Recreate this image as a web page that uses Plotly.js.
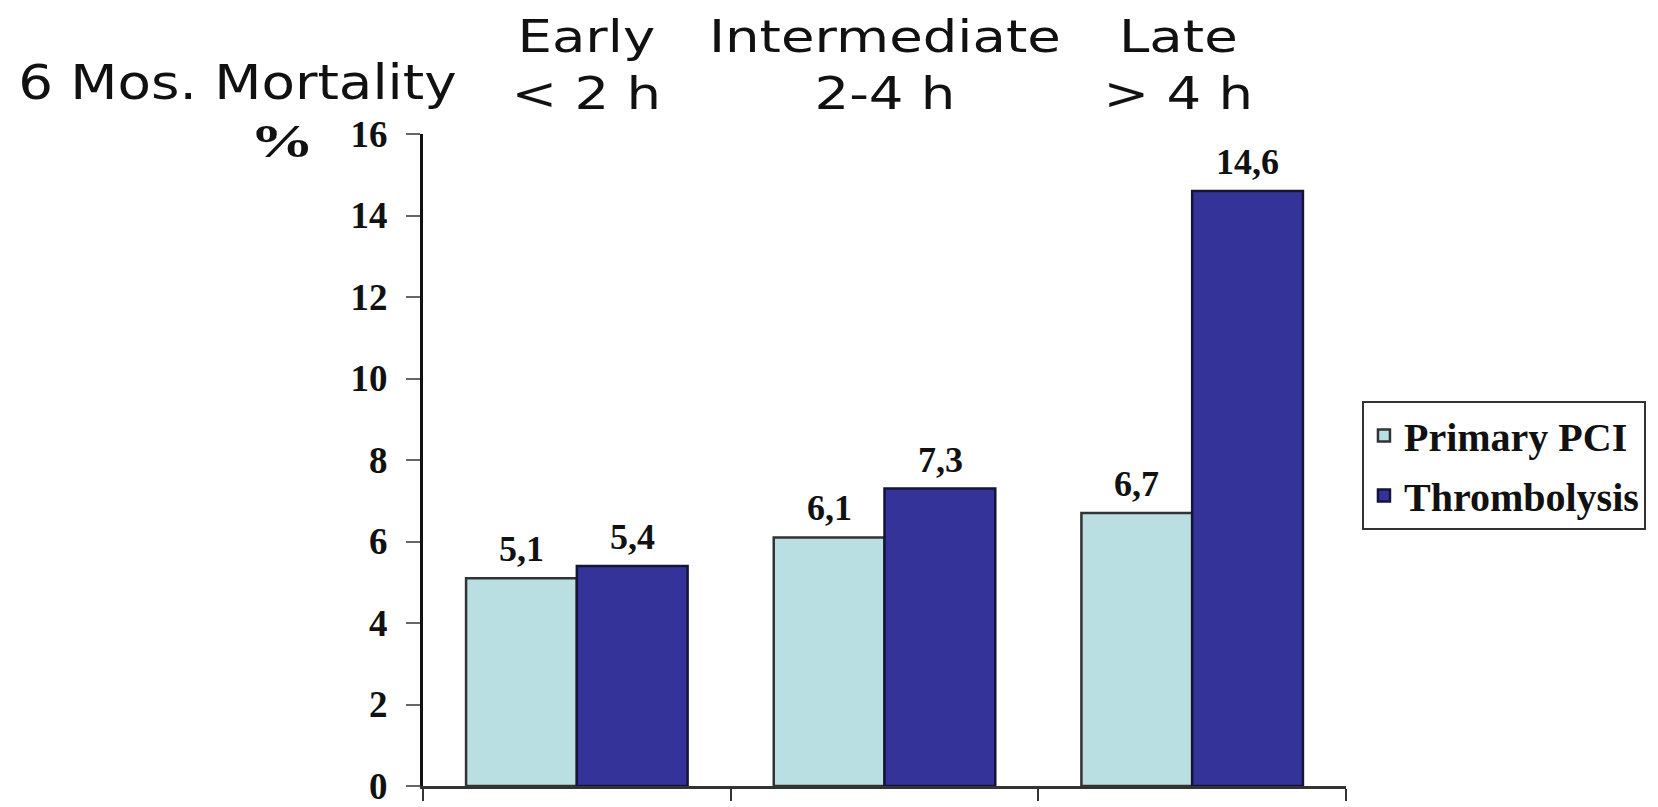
<!DOCTYPE html>
<html>
<head>
<meta charset="utf-8">
<script src="https://cdn.plot.ly/plotly-3.0.1.min.js"></script>
<style>
  html, body { margin: 0; padding: 0; background: #ffffff; }
  #chart { width: 1658px; height: 807px; }
  /* headings and the unit sign are set in a wide face */
  #chart g.annotation .annotation-text {
    transform-box: fill-box;
    transform-origin: center;
  }
  #chart g.annotation[data-index="0"] .annotation-text { transform: scaleX(1.14); }
  #chart g.annotation[data-index="1"] .annotation-text { transform: scaleX(1.4); }
  #chart g.annotation[data-index="2"] .annotation-text,
  #chart g.annotation[data-index="3"] .annotation-text,
  #chart g.annotation[data-index="4"] .annotation-text { transform: scaleX(1.24); }
</style>
</head>
<body>
<div id="chart"></div>
<script>
// Six-month mortality by time to treatment
const categories = ['Early', 'Intermediate', 'Late'];
const timeWindows = ['&lt; 2 h', '2-4 h', '&gt; 4 h'];
const seriesNames = ['Primary PCI', 'Thrombolysis'];
const primaryPCI = [5.1, 6.1, 6.7];
const thrombolysis = [5.4, 7.3, 14.6];
const yTicks = [0, 2, 4, 6, 8, 10, 12, 14, 16];

const timesBold = { family: 'Liberation Serif', weight: 'bold', color: '#111111' };
const sans = 'DejaVu Sans, Verdana, sans-serif';
const headerShift = [10, 0, -14];

const W = 1658, H = 807;
const margin = { l: 423, r: 310, t: 134, b: 21 };
const bargap = 0.28;
const plotW = W - margin.l - margin.r;
const plotH = H - margin.t - margin.b;
// half the width of one bar in a two-bar group, in pixels
const halfBar = plotW / categories.length * (1 - bargap) / 4;
// paper y for a given distance in pixels from the top of the page
const paperY = px => (H - margin.b - px) / plotH;

function barTrace(name, values, fill, edge) {
  return {
    type: 'bar',
    name: name,
    legendgroup: name,
    x: categories,
    y: values,
    marker: { color: fill, line: { color: edge, width: 2.5 } },
    hoverinfo: 'skip'
  };
}

const traces = [
  barTrace(seriesNames[0], primaryPCI, '#b9dfe3', '#333333'),
  barTrace(seriesNames[1], thrombolysis, '#333399', '#14143a')
];

const fmt = v => v.toFixed(1).replace('.', ',');

const headerAnnotations = categories.map((c, i) => ({
  xref: 'x', yref: 'paper',
  x: c, y: paperY(65), xshift: headerShift[i],
  xanchor: 'center', yanchor: 'middle',
  text: c + '<br>' + timeWindows[i],
  showarrow: false,
  font: { family: sans, size: 44, color: '#111111' }
}));

// value labels sit above each bar of the pair
const valueAnnotations = [];
[primaryPCI, thrombolysis].forEach((values, s) => {
  values.forEach((v, i) => {
    valueAnnotations.push({
      xref: 'x', yref: 'y',
      x: categories[i], y: v,
      xshift: (s === 0 ? -1 : 1) * halfBar, yshift: 7,
      xanchor: 'center', yanchor: 'bottom',
      text: fmt(v), showarrow: false,
      font: Object.assign({ size: 36 }, timesBold)
    });
  });
});

const layout = {
  width: W,
  height: H,
  margin: Object.assign({ pad: 0 }, margin),
  paper_bgcolor: '#ffffff',
  plot_bgcolor: '#ffffff',
  barmode: 'group',
  bargap: bargap,
  bargroupgap: 0,
  showlegend: true,
  legend: {
    x: 1.0173, y: paperY(401), xanchor: 'left', yanchor: 'top',
    bordercolor: '#333333', borderwidth: 2,
    bgcolor: '#ffffff',
    font: Object.assign({ size: 40 }, timesBold),
    itemwidth: 30,
    traceorder: 'grouped',
    tracegroupgap: 5
  },
  xaxis: {
    type: 'category',
    range: [-0.5, 2.5],
    showline: true, linecolor: '#333333', linewidth: 2.5,
    ticks: 'outside', tickson: 'boundaries', ticklen: 12,
    tickcolor: '#333333', tickwidth: 2,
    showticklabels: false,
    showgrid: false, zeroline: false, fixedrange: true
  },
  yaxis: {
    range: [0, 16],
    tickvals: yTicks,
    showline: true, linecolor: '#111111', linewidth: 3,
    ticks: 'outside', ticklen: 14, tickcolor: '#666666', tickwidth: 2,
    tickfont: Object.assign({ size: 37 }, timesBold),
    ticklabelstandoff: 11,
    ticklabeloverflow: 'allow',
    showgrid: false, zeroline: false, fixedrange: true
  },
  annotations: [
    {
      xref: 'paper', yref: 'paper', x: -0.2005, y: paperY(81.5),
      xanchor: 'center', yanchor: 'middle', showarrow: false,
      text: '6 Mos. Mortality',
      font: { family: sans, size: 48, color: '#111111' }
    },
    {
      xref: 'paper', yref: 'paper', x: -0.1524, y: paperY(141),
      xanchor: 'center', yanchor: 'middle', showarrow: false,
      text: '%',
      font: Object.assign({ size: 46 }, timesBold)
    }
  ].concat(headerAnnotations, valueAnnotations)
};

Plotly.newPlot('chart', traces, layout, { displayModeBar: false, staticPlot: true });
</script>
</body>
</html>
